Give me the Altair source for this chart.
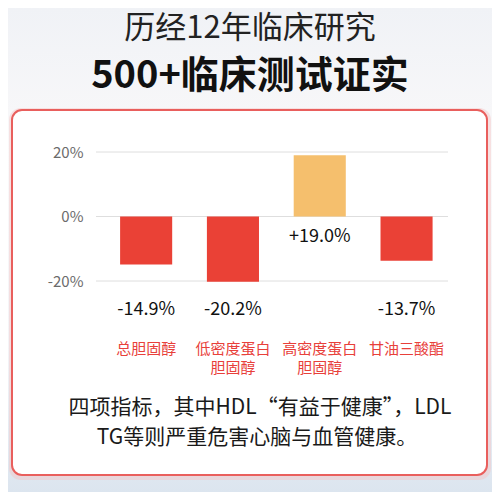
import altair as alt
import pandas as pd

title_line1 = "历经12年临床研究"
title_line2 = "500+临床测试证实"
categories = ["总胆固醇", "低密度蛋白\n胆固醇", "高密度蛋白\n胆固醇", "甘油三酸酯"]
values = [-14.9, -20.2, 19.0, -13.7]
value_labels = ["-14.9%", "-20.2%", "+19.0%", "-13.7%"]
y_ticks = [-20, 0, 20]
footnote = ["四项指标，其中HDL“有益于健康”，LDL", "TG等则严重危害心脑与血管健康。"]

FONT = "Noto Sans CJK SC"
RED = "#ea4136"
ORANGE = "#f5bf6d"
LABEL_RED = "#e8403a"

df = pd.DataFrame({"cat": categories, "value": values, "label": value_labels})
df["dir"] = ["up" if v > 0 else "down" for v in values]
ticks_df = pd.DataFrame({"t": y_ticks})
one = pd.DataFrame({"k": [0]})

x_scale = alt.Scale(domain=categories, paddingInner=0.4, paddingOuter=0.2276, align=0.61)
x_enc = alt.X("cat:N", sort=None, axis=None, scale=x_scale)
y_scale = alt.Scale(domain=[-20, 20], nice=False, zero=False)
y_axis = alt.Axis(values=y_ticks, labelExpr="datum.value + '%'", domain=False, ticks=False,
                  grid=False, labelColor="#6b6b6b", labelFontSize=15, labelFont=FONT,
                  labelPadding=13, title=None, zindex=1)

bg = alt.Chart(one).mark_rect(
    color=alt.LinearGradient(gradient="linear", x1=0, x2=0, y1=0, y2=1, stops=[
        alt.GradientStop(color="#f0f2f6", offset=0),
        alt.GradientStop(color="#faf9fa", offset=0.3),
        alt.GradientStop(color="#f4f4f7", offset=0.7),
        alt.GradientStop(color="#dce5ef", offset=1),
    ])
).encode(x=alt.value(-88), x2=alt.value(396), y=alt.value(-144), y2=alt.value(340))

shadow = alt.Chart(one).mark_rect(
    cornerRadius=12, fill="#f3c3c3", opacity=0.45
).encode(x=alt.value(-87), x2=alt.value(395), y=alt.value(-44), y2=alt.value(328))

card = alt.Chart(one).mark_rect(
    cornerRadius=10, fill="white", stroke="#e95f5d", strokeWidth=2
).encode(x=alt.value(-84), x2=alt.value(391), y=alt.value(-42), y2=alt.value(323))

t1 = alt.Chart(one).mark_text(text=title_line1, font=FONT, fontSize=31, color="#222222",
                              baseline="middle", align="center").encode(
    x=alt.value(154), y=alt.value(-123))
t2 = alt.Chart(one).mark_text(text=title_line2, font=FONT, fontSize=38, fontWeight="bold",
                              color="#111111", baseline="middle", align="center").encode(
    x=alt.value(154), y=alt.value(-75))

grid = alt.Chart(ticks_df).mark_rule(color="#dedede", strokeWidth=1).encode(
    y=alt.Y("t:Q", scale=y_scale, axis=y_axis))

bars = alt.Chart(df).mark_bar().encode(
    x=x_enc,
    y=alt.Y("value:Q", scale=y_scale, axis=y_axis),
    y2=alt.datum(0),
    color=alt.Color("dir:N", scale=alt.Scale(domain=["down", "up"], range=[RED, ORANGE]), legend=None),
)

neg_labels = alt.Chart(df).transform_filter("datum.value < 0").mark_text(
    font=FONT, fontSize=18, color="#111111", baseline="middle").encode(
    x=x_enc, y=alt.value(158), text="label:N")
pos_labels = alt.Chart(df).transform_filter("datum.value > 0").mark_text(
    font=FONT, fontSize=18, color="#111111", baseline="middle", dy=20).encode(
    x=x_enc, y=alt.datum(0), text="label:N")

cat_labels = alt.Chart(df).mark_text(
    font=FONT, fontSize=15, color=LABEL_RED, baseline="top", lineBreak="\n", lineHeight=19).encode(
    x=x_enc, y=alt.value(190), text="cat:N")

f1 = alt.Chart(one).mark_text(text=footnote[0], font=FONT, fontSize=21, color="#1a1a1a",
                              baseline="middle", align="center").encode(
    x=alt.value(164), y=alt.value(256))
f2 = alt.Chart(one).mark_text(text=footnote[1], font=FONT, fontSize=21, color="#1a1a1a",
                              baseline="middle", align="center").encode(
    x=alt.value(161), y=alt.value(286))

chart = alt.layer(bg, shadow, card, t1, t2, grid, bars, neg_labels, pos_labels, cat_labels, f1, f2).properties(
    width=352, height=129,
    padding={"left": 88, "top": 144, "right": 44, "bottom": 211},
    autosize=alt.AutoSizeParams(type="none"),
    background="white",
).configure_view(strokeWidth=0)

chart.save("out.html", embed_options={"renderer": "svg", "actions": False})
